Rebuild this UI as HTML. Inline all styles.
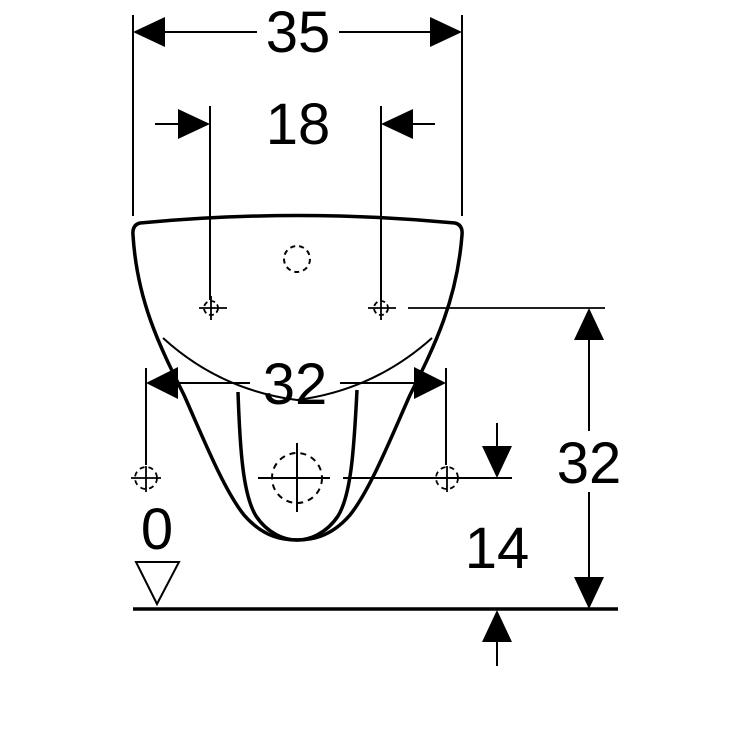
<!DOCTYPE html>
<html><head><style>body{margin:0;background:#fff}svg{display:block}</style></head><body>
<svg width="750" height="750" viewBox="0 0 750 750" xmlns="http://www.w3.org/2000/svg">
<g fill="none" stroke="#000" stroke-width="2">
<line x1="133" y1="15" x2="133" y2="216"/><line x1="462" y1="15" x2="462" y2="216"/>
<line x1="160" y1="32" x2="257" y2="32"/><line x1="339" y1="32" x2="435" y2="32"/>
<line x1="210" y1="106" x2="210" y2="300"/><line x1="381" y1="106" x2="381" y2="300"/>
<line x1="155" y1="124" x2="185" y2="124"/><line x1="405" y1="124" x2="435" y2="124"/>
<path d="M140,223 Q297,208 455,223 Q463,225 462,235 C457,300 435,345 410,395 C390,440 370,490 350,515 C330,538 310,540 297,540 C284,540 264,538 244,515 C224,490 204,440 184,395 C159,345 137,300 133,235 Q132,225 140,223 Z" stroke-width="3.5"/>
<path d="M163,338 Q220,390 297,400 Q374,390 432,338" stroke-width="2"/>
<path d="M238,392 C240,450 243,495 256,516 C268,534 285,540 297,540 C309,540 326,534 338,516 C351,495 354,450 357,390" stroke-width="3.5"/>
<circle cx="297" cy="259" r="13" stroke-dasharray="5 4"/>
<g stroke-width="1.8">
<line x1="199" y1="308" x2="227" y2="308"/><line x1="211" y1="296" x2="211" y2="320"/><circle cx="211" cy="308" r="7" stroke-dasharray="5 3"/>
<line x1="368" y1="308" x2="396" y2="308"/><line x1="381" y1="296" x2="381" y2="320"/><circle cx="381" cy="308" r="7" stroke-dasharray="5 3"/>
<line x1="408" y1="308" x2="605" y2="308"/>
<line x1="131" y1="478" x2="161" y2="478"/><line x1="146" y1="466" x2="146" y2="492"/><circle cx="146" cy="478" r="11" stroke-dasharray="5 4"/>
<line x1="432" y1="478" x2="462" y2="478"/><line x1="447" y1="466" x2="447" y2="492"/><circle cx="447" cy="478" r="11" stroke-dasharray="5 4"/>
</g>
<circle cx="297" cy="478" r="25" stroke-dasharray="6 5"/>
<line x1="258" y1="478" x2="330" y2="478"/><line x1="343" y1="478" x2="512" y2="478"/>
<line x1="297" y1="443" x2="297" y2="512"/>
<line x1="146" y1="368" x2="146" y2="465"/><line x1="446" y1="368" x2="446" y2="465"/>
<line x1="175" y1="383" x2="250" y2="383"/><line x1="340" y1="383" x2="418" y2="383"/>
<line x1="589" y1="335" x2="589" y2="431"/><line x1="589" y1="492" x2="589" y2="582"/>
<line x1="497" y1="423" x2="497" y2="450"/><line x1="497" y1="635" x2="497" y2="666"/>
<line x1="133" y1="609" x2="618" y2="609" stroke-width="3.5"/>
<path d="M136,562 L179,562 L157,604 Z"/>
</g>
<g fill="#000">
<path d="M133,32 L165,17 L165,47 Z"/><path d="M462,32 L430,17 L430,47 Z"/>
<path d="M210,124 L178,109 L178,139 Z"/><path d="M381,124 L413,109 L413,139 Z"/>
<path d="M146,383 L178,367 L178,399 Z"/><path d="M446,383 L414,367 L414,399 Z"/>
<path d="M589,308 L574,340 L604,340 Z"/><path d="M589,609 L574,577 L604,577 Z"/>
<path d="M497,478 L482,446 L512,446 Z"/><path d="M497,610 L482,642 L512,642 Z"/>
</g>
<g font-family="Liberation Sans, sans-serif" font-size="58" text-anchor="middle" fill="#000">
<text x="298" y="52">35</text>
<text x="298" y="144">18</text>
<text x="295" y="404">32</text>
<text x="589" y="483">32</text>
<text x="497" y="568">14</text>
<text x="157" y="549">0</text>
</g>
</svg>
</body></html>
